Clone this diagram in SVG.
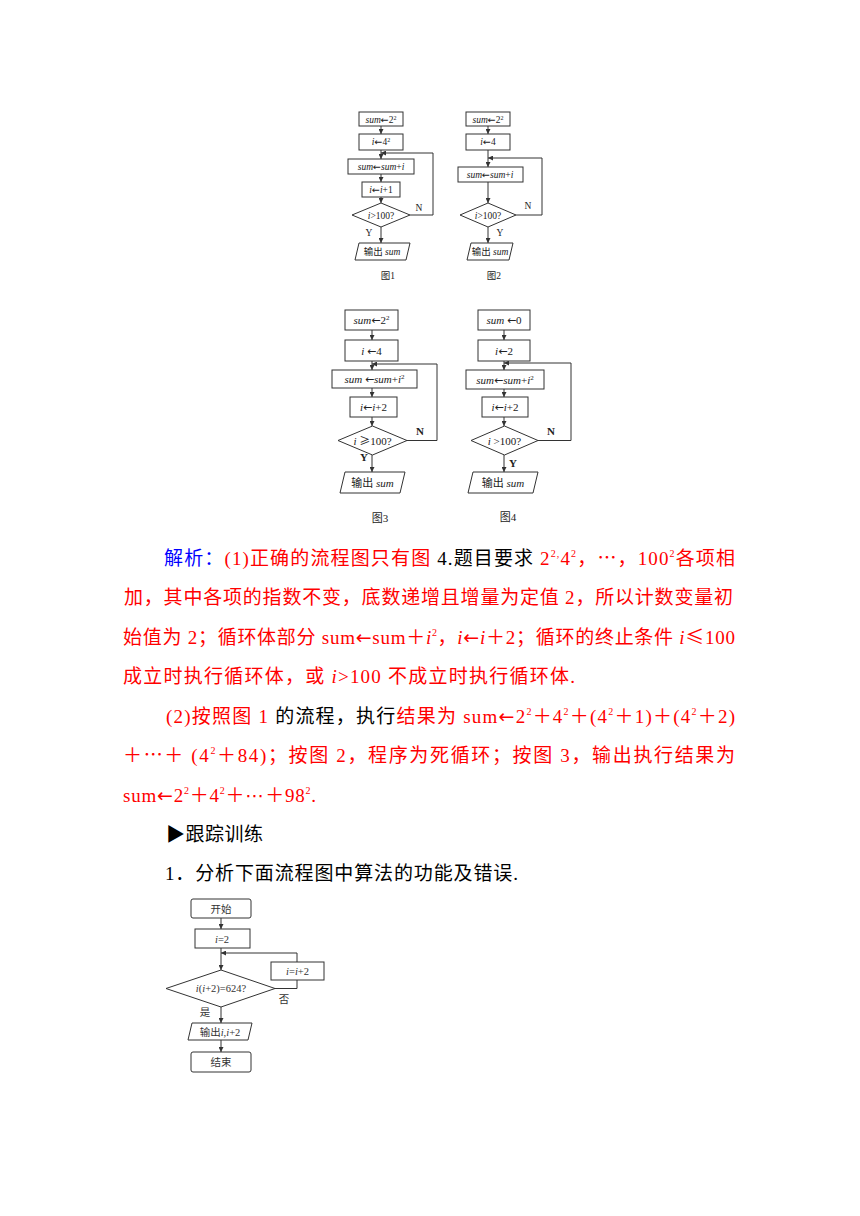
<svg xmlns="http://www.w3.org/2000/svg" width="860" height="1216" viewBox="0 0 860 1216">
<defs>
<style>
.bg{fill:#fff}
.bx{fill:none;stroke:#333;stroke-width:1}
.ln{fill:none;stroke:#333;stroke-width:1}
.f9{font-family:"Liberation Serif","Noto Sans CJK SC",serif;font-size:9.5px;fill:#222;text-anchor:middle}
.f11{font-family:"Liberation Serif","Noto Sans CJK SC",serif;font-size:11px;fill:#222;text-anchor:middle}
.f10{font-family:"Liberation Serif","Noto Sans CJK SC",serif;font-size:10.5px;fill:#333;text-anchor:middle}
.it{font-style:italic}
.ar{font-family:"DejaVu Sans",sans-serif;font-style:normal}
.cj{font-family:"Noto Sans CJK SC",sans-serif}
.t{font-family:"Liberation Serif","Noto Sans CJK SC",serif;font-size:19px}
.r{fill:#ff0000}
.b{fill:#0000ff}
.k{fill:#000}
.sup{font-size:10px}
</style>
<marker id="ah" viewBox="0 0 6 6" refX="6" refY="3" markerWidth="5" markerHeight="5" orient="auto" markerUnits="userSpaceOnUse"><path d="M0,0 L6,3 L0,6 z" fill="#333"/></marker>
</defs>
<rect class="bg" x="0" y="0" width="860" height="1216"/>

<!-- Figure 1 -->
<g id="fig1">
<g id="f1n1"><rect class="bx" x="359" y="112" width="44" height="14"/><text class="f9" x="381" y="122.5"><tspan class="it">sum</tspan><tspan class="ar">←</tspan>2<tspan font-size="6" dy="-3">2</tspan></text></g>
<g id="f1n2"><rect class="bx" x="359" y="134" width="44" height="16"/><text class="f9" x="381" y="145"><tspan class="it">i</tspan><tspan class="ar">←</tspan>4<tspan font-size="6" dy="-3">2</tspan></text></g>
<g id="f1n3"><rect class="bx" x="348" y="159" width="66" height="15"/><text class="f9" x="381" y="169.5"><tspan class="it">sum</tspan><tspan class="ar">←</tspan><tspan class="it">sum</tspan>+<tspan class="it">i</tspan></text></g>
<g id="f1n4"><rect class="bx" x="362" y="182" width="38" height="15"/><text class="f9" x="381" y="192.5"><tspan class="it">i</tspan><tspan class="ar">←</tspan><tspan class="it">i</tspan>+1</text></g>
<g id="f1n5"><polygon class="bx" points="381,203 410,215 381,227 352,215"/><text class="f9" x="381" y="218.5"><tspan class="it">i</tspan>&gt;100?</text></g>
<g id="f1n6"><polygon class="bx" points="359,243 410,243 406,260 355,260"/><text class="f9" x="382" y="255">输出 <tspan class="it">sum</tspan></text></g>
<text class="f9" x="419" y="211">N</text>
<text class="f9" x="369" y="236">Y</text>
<text class="f9" x="388" y="279" font-size="10">图1</text>
</g>

<!-- Figure 2 -->
<g id="fig2">
<g id="f2n1"><rect class="bx" x="466" y="112" width="44" height="14"/><text class="f9" x="488" y="122.5"><tspan class="it">sum</tspan><tspan class="ar">←</tspan>2<tspan font-size="6" dy="-3">2</tspan></text></g>
<g id="f2n2"><rect class="bx" x="466" y="134" width="44" height="16"/><text class="f9" x="488" y="145"><tspan class="it">i</tspan><tspan class="ar">←</tspan>4</text></g>
<g id="f2n3"><rect class="bx" x="458" y="167" width="65" height="15"/><text class="f9" x="490" y="177.5"><tspan class="it">sum</tspan><tspan class="ar">←</tspan><tspan class="it">sum</tspan>+<tspan class="it">i</tspan></text></g>
<g id="f2n4"><polygon class="bx" points="488,203 516,215 488,227 460,215"/><text class="f9" x="488" y="218.5"><tspan class="it">i</tspan>&gt;100?</text></g>
<g id="f2n5"><polygon class="bx" points="471,243 513,243 509,260 467,260"/><text class="f9" x="490" y="255">输出 <tspan class="it">sum</tspan></text></g>
<text class="f9" x="528" y="209">N</text>
<text class="f9" x="500" y="236">Y</text>
<text class="f9" x="494" y="279" font-size="10">图2</text>
</g>

<!-- Figure 3 -->
<g id="fig3">
<g id="f3n1"><rect class="bx" x="345" y="310" width="53" height="20"/><text class="f11" x="371.5" y="324"><tspan class="it">sum</tspan><tspan class="ar">←</tspan>2<tspan font-size="7" dy="-4">2</tspan></text></g>
<g id="f3n2"><rect class="bx" x="345" y="340" width="53" height="21"/><text class="f11" x="371.5" y="354.5"><tspan class="it">i</tspan> <tspan class="ar">←</tspan>4</text></g>
<g id="f3n3"><rect class="bx" x="332" y="370" width="85" height="18"/><text class="f11" x="374.5" y="383"><tspan class="it">sum</tspan> <tspan class="ar">←</tspan><tspan class="it">sum</tspan>+<tspan class="it">i</tspan><tspan font-size="7" dy="-4">2</tspan></text></g>
<g id="f3n4"><rect class="bx" x="350" y="397" width="47" height="20"/><text class="f11" x="373.5" y="411"><tspan class="it">i</tspan><tspan class="ar">←</tspan><tspan class="it">i</tspan>+2</text></g>
<g id="f3n5"><polygon class="bx" points="372.5,426 407,440.5 372.5,455 338,440.5"/><text class="f11" x="372.5" y="444.5"><tspan class="it">i</tspan> <tspan class="cj">≥</tspan>100?</text></g>
<g id="f3n6"><polygon class="bx" points="345,472 405,472 400,493 340,493"/><text class="f11" x="372.5" y="487">输出 <tspan class="it">sum</tspan></text></g>
<text class="f11" x="420" y="435" font-weight="bold" font-size="10">N</text>
<text class="f11" x="364" y="461" font-weight="bold" font-size="10">Y</text>
<text class="f11" x="380" y="522">图3</text>
</g>

<!-- Figure 4 -->
<g id="fig4">
<g id="f4n1"><rect class="bx" x="478" y="310" width="52" height="20"/><text class="f11" x="504" y="324"><tspan class="it">sum</tspan> <tspan class="ar">←</tspan>0</text></g>
<g id="f4n2"><rect class="bx" x="478" y="340" width="52" height="21"/><text class="f11" x="504" y="354.5"><tspan class="it">i</tspan><tspan class="ar">←</tspan>2</text></g>
<g id="f4n3"><rect class="bx" x="466" y="370" width="78" height="19"/><text class="f11" x="505" y="383.5"><tspan class="it">sum</tspan><tspan class="ar">←</tspan><tspan class="it">sum</tspan>+<tspan class="it">i</tspan><tspan font-size="7" dy="-4">2</tspan></text></g>
<g id="f4n4"><rect class="bx" x="482" y="397" width="46" height="20"/><text class="f11" x="505" y="411"><tspan class="it">i</tspan><tspan class="ar">←</tspan><tspan class="it">i</tspan>+2</text></g>
<g id="f4n5"><polygon class="bx" points="504.5,426 538,440.5 504.5,455 471,440.5"/><text class="f11" x="504.5" y="444.5"><tspan class="it">i</tspan> &gt;100?</text></g>
<g id="f4n6"><polygon class="bx" points="473,472 538,472 533,493 468,493"/><text class="f11" x="503" y="487">输出 <tspan class="it">sum</tspan></text></g>
<text class="f11" x="551" y="435" font-weight="bold" font-size="10">N</text>
<text class="f11" x="513" y="467" font-weight="bold" font-size="10">Y</text>
<text class="f11" x="508" y="521">图4</text>
</g>

<!-- Bottom flowchart -->
<g id="start"><rect class="bx" x="191" y="899" width="60" height="19" rx="2"/><text class="f10" x="221" y="912.5">开始</text></g>
<g id="init"><rect class="bx" x="195" y="929" width="55" height="19"/><text class="f10" x="222" y="942.5"><tspan class="it">i</tspan>=2</text></g>
<g id="cond"><polygon class="bx" points="221,970 275,988.5 221,1007 166,988.5"/><text class="f10" x="221" y="992" font-size="10.5"><tspan class="it">i</tspan>(<tspan class="it">i</tspan>+2)=624?</text></g>
<g id="inc"><rect class="bx" x="271" y="962" width="53" height="18"/><text class="f10" x="297.5" y="975"><tspan class="it">i</tspan>=<tspan class="it">i</tspan>+2</text></g>
<g id="out"><polygon class="bx" points="192,1023 252,1023 248,1040 188,1040"/><text class="f10" x="220" y="1035.5">输出<tspan class="it">i</tspan>,<tspan class="it">i</tspan>+2</text></g>
<g id="end"><rect class="bx" x="191" y="1052" width="60" height="20" rx="2"/><text class="f10" x="221" y="1066">结束</text></g>
<text class="f10" x="284" y="1003">否</text>
<text class="f10" x="205" y="1016">是</text>

<!-- Connectors -->
<g id="connectors">
<line class="ln" x1="381" y1="126" x2="381" y2="134" marker-end="url(#ah)"/>
<line class="ln" x1="381" y1="150" x2="381" y2="159" marker-end="url(#ah)"/>
<line class="ln" x1="381" y1="174" x2="381" y2="182" marker-end="url(#ah)"/>
<line class="ln" x1="381" y1="197" x2="381" y2="203" marker-end="url(#ah)"/>
<line class="ln" x1="381" y1="227" x2="381" y2="243" marker-end="url(#ah)"/>
<polyline class="ln" points="410,215 433,215 433,153 381,153" marker-end="url(#ah)"/>

<line class="ln" x1="488" y1="126" x2="488" y2="134" marker-end="url(#ah)"/>
<line class="ln" x1="488" y1="150" x2="488" y2="167" marker-end="url(#ah)"/>
<line class="ln" x1="488" y1="182" x2="488" y2="203" marker-end="url(#ah)"/>
<line class="ln" x1="488" y1="227" x2="488" y2="243" marker-end="url(#ah)"/>
<polyline class="ln" points="516,215 542,215 542,158 488,158" marker-end="url(#ah)"/>

<line class="ln" x1="372" y1="330" x2="372" y2="340" marker-end="url(#ah)"/>
<line class="ln" x1="372" y1="361" x2="372" y2="370" marker-end="url(#ah)"/>
<line class="ln" x1="372" y1="388" x2="372" y2="397" marker-end="url(#ah)"/>
<line class="ln" x1="372" y1="417" x2="372" y2="426" marker-end="url(#ah)"/>
<line class="ln" x1="372" y1="455" x2="372" y2="472" marker-end="url(#ah)"/>
<polyline class="ln" points="407,440.5 437,440.5 437,364 372,364" marker-end="url(#ah)"/>

<line class="ln" x1="504" y1="330" x2="504" y2="340" marker-end="url(#ah)"/>
<line class="ln" x1="504" y1="361" x2="504" y2="370" marker-end="url(#ah)"/>
<line class="ln" x1="504" y1="389" x2="504" y2="397" marker-end="url(#ah)"/>
<line class="ln" x1="504" y1="417" x2="504" y2="426" marker-end="url(#ah)"/>
<line class="ln" x1="504" y1="455" x2="504" y2="472" marker-end="url(#ah)"/>
<polyline class="ln" points="538,440.5 571,440.5 571,363 504,363" marker-end="url(#ah)"/>

<line class="ln" x1="221" y1="918" x2="221" y2="929" marker-end="url(#ah)"/>
<line class="ln" x1="221" y1="948" x2="221" y2="970" marker-end="url(#ah)"/>
<line class="ln" x1="221" y1="1007" x2="221" y2="1023" marker-end="url(#ah)"/>
<line class="ln" x1="221" y1="1040" x2="221" y2="1052" marker-end="url(#ah)"/>
<polyline class="ln" points="275,988.5 297,988.5 297,980"/>
<polyline class="ln" points="297,962 297,953 221,953" marker-end="url(#ah)"/>
</g>

<!-- Paragraph text -->
<text class="t" x="164" y="565" textLength="571" lengthAdjust="spacing"><tspan class="b">解析：</tspan><tspan class="r">(1)正确的流程图只有图</tspan><tspan class="k"> 4.题目要求 </tspan><tspan class="r">2<tspan class="sup" dy="-8">2,</tspan><tspan dy="8">4</tspan><tspan class="sup" dy="-8">2</tspan><tspan dy="8">，</tspan><tspan class="cj">…</tspan>，100<tspan class="sup" dy="-8">2</tspan><tspan dy="8">各项相</tspan></tspan></text>
<text class="t r" x="124" y="604" textLength="609" lengthAdjust="spacing">加，其中各项的指数不变，底数递增且增量为定值 2，所以计数变量初</text>
<text class="t r" x="123" y="644" textLength="612" lengthAdjust="spacing">始值为 2；循环体部分 sum<tspan class="ar">←</tspan>sum＋<tspan class="it">i</tspan><tspan class="sup" dy="-8">2</tspan><tspan dy="8">，</tspan><tspan class="it">i</tspan><tspan class="ar">←</tspan><tspan class="it">i</tspan>＋2；循环的终止条件 <tspan class="it">i</tspan><tspan class="cj">≤</tspan>100</text>
<text class="t r" x="123" y="683" textLength="452" lengthAdjust="spacing">成立时执行循环体，或 <tspan class="it">i</tspan>&gt;100 不成立时执行循环体.</text>
<text class="t" x="166" y="723" textLength="569" lengthAdjust="spacing"><tspan class="r">(2)按照图 1 </tspan><tspan class="k">的流程，执行</tspan><tspan class="r">结果为 sum<tspan class="ar">←</tspan>2<tspan class="sup" dy="-8">2</tspan><tspan dy="8">＋4</tspan><tspan class="sup" dy="-8">2</tspan><tspan dy="8">＋(4</tspan><tspan class="sup" dy="-8">2</tspan><tspan dy="8">＋1)＋(4</tspan><tspan class="sup" dy="-8">2</tspan><tspan dy="8">＋2)</tspan></tspan></text>
<text class="t r" x="123" y="762" textLength="612" lengthAdjust="spacing">＋<tspan class="cj">…</tspan>＋ (4<tspan class="sup" dy="-8">2</tspan><tspan dy="8">＋84)；按图 2，程序为死循环；按图 3，输出执行结果为</tspan></text>
<text class="t r" x="123" y="802" textLength="193" lengthAdjust="spacing">sum<tspan class="ar">←</tspan>2<tspan class="sup" dy="-8">2</tspan><tspan dy="8">＋4</tspan><tspan class="sup" dy="-8">2</tspan><tspan dy="8">＋</tspan><tspan class="ar">⋯</tspan>＋98<tspan class="sup" dy="-8">2</tspan><tspan dy="8">.</tspan></text>
<text class="t k" x="166" y="841" textLength="97" lengthAdjust="spacing">▶跟踪训练</text>
<text class="t k" x="165" y="880" textLength="353" lengthAdjust="spacing">1．分析下面流程图中算法的功能及错误.</text>
</svg>
